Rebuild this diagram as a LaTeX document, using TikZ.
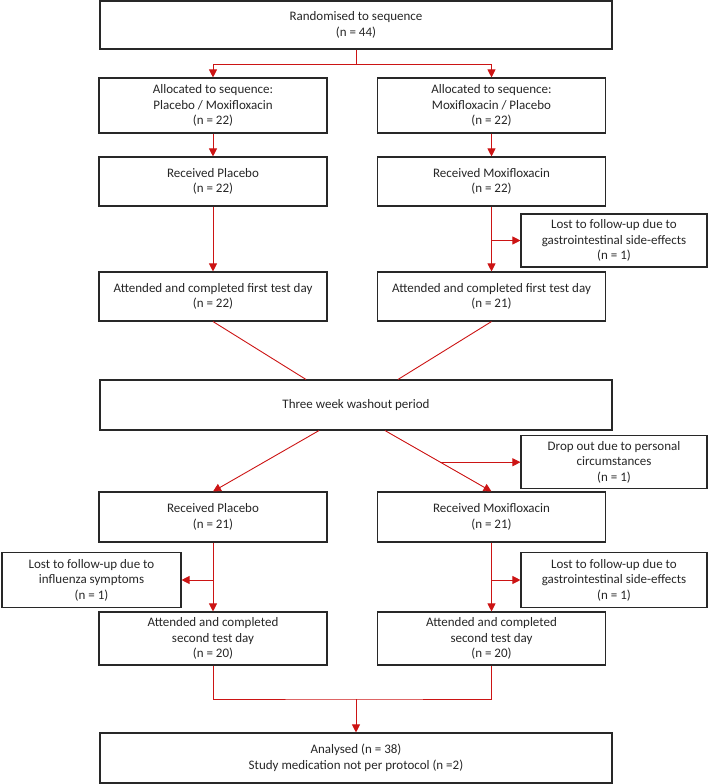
\documentclass[tikz,border=0pt]{standalone}
\usepackage{fontspec}
\setmainfont{Carlito}
\usetikzlibrary{arrows.meta,calc}
\definecolor{flowred}{RGB}{204,20,20}
\definecolor{boxline}{RGB}{40,40,40}
\tikzset{
  box/.style={draw=boxline, line width=1.1pt, align=center, inner sep=0pt, text=black!85,
    font=\fontsize{13}{15.5}\selectfont},
  wide/.style={box, minimum width=512pt},
  arm/.style={box, minimum width=228pt},
  side/.style={box, minimum width=186pt, minimum height=53pt},
  link/.style={draw=flowred, line width=0.9pt},
  arr/.style={link, -{Triangle[length=8pt,width=8pt]}}
}
\begin{document}
\begin{tikzpicture}[x=1pt,y=-1pt]
\useasboundingbox (0,0) rectangle (709,784);
%\draw [help lines, step=50] (0,0) grid (709,784);
% top
\node[wide, minimum height=48pt] (rand) at (356,25) {Randomised to sequence\\(n = 44)};
\node[arm, minimum height=55pt] (allocA) at (213,105.5) {Allocated to sequence:\\Placebo / Moxifloxacin\\(n = 22)};
\node[arm, minimum height=55pt] (allocB) at (491.5,105.5) {Allocated to sequence:\\Moxifloxacin / Placebo\\(n = 22)};
% first period
\node[arm, minimum height=49pt] (recA1) at (213,181.5) {Received Placebo\\(n = 22)};
\node[arm, minimum height=49pt] (recB1) at (491.5,181.5) {Received Moxifloxacin\\(n = 22)};
\node[side] (lostB1) at (614,240.5) {Lost to follow-up due to\\gastrointestinal side-effects\\(n = 1)};
\node[arm, minimum height=49pt] (attA1) at (213,296.5) {Attended and completed first test day\\(n = 22)};
\node[arm, minimum height=49pt] (attB1) at (491.5,296.5) {Attended and completed first test day\\(n = 21)};
% washout
\node[wide, minimum height=50pt] (wash) at (356,405) {Three week washout period};
\node[side] (drop) at (614,462) {Drop out due to personal\\circumstances\\(n = 1)};
% second period
\node[arm, minimum height=50pt] (recA2) at (213,517) {Received Placebo\\(n = 21)};
\node[arm, minimum height=50pt] (recB2) at (491.5,517) {Received Moxifloxacin\\(n = 21)};
\node[box, minimum width=179pt, minimum height=55pt] (lostA2) at (91.5,580) {Lost to follow-up due to\\influenza symptoms\\(n = 1)};
\node[side, minimum height=55pt] (lostB2) at (614,580) {Lost to follow-up due to\\gastrointestinal side-effects\\(n = 1)};
\node[arm, minimum height=53pt] (attA2) at (213,638.5) {Attended and completed\\second test day\\(n = 20)};
\node[arm, minimum height=53pt] (attB2) at (491.5,638.5) {Attended and completed\\second test day\\(n = 20)};
\node[wide, minimum height=50pt] (anal) at (356,758) {Analysed (n = 38)\\Study medication not per protocol (n =2)};
% helper points
\coordinate (split) at (356,64);
\coordinate (merge) at (356,699);
\coordinate (wA1) at ([xshift=-50pt]wash.north);
\coordinate (wB1) at ([xshift=42pt]wash.north);
\coordinate (wA2) at ([xshift=-37pt]wash.south);
\coordinate (wB2) at ([xshift=29pt]wash.south);
% connectors
\draw[link] (rand) -- (split);
\draw[arr] (split) -| (allocA.north);
\draw[arr] (split) -| (allocB.north);
\draw[arr] (allocA) -- (recA1);
\draw[arr] (allocB) -- (recB1);
\draw[arr] (recA1) -- (attA1);
\draw[arr] (recB1) -- (attB1);
\draw[arr] (recB1.south |- lostB1.west) -- (lostB1.west);
\draw[link] (attA1.south) -- (wA1);
\draw[link] (attB1.south) -- (wB1);
\draw[arr] (wA2) -- (recA2.north);
\draw[arr] (wB2) -- (recB2.north) coordinate[pos=0.52] (dd);
\draw[arr] (dd) -- (dd -| drop.west);
\draw[arr] (recA2) -- (attA2);
\draw[arr] (recB2) -- (attB2);
\draw[arr] (recA2.south |- lostA2.east) -- (lostA2.east);
\draw[arr] (recB2.south |- lostB2.west) -- (lostB2.west);
\draw[link] (attA2.south) |- (merge) -| (attB2.south);
\draw[arr] (merge) -- (anal);
\end{tikzpicture}
\end{document}
